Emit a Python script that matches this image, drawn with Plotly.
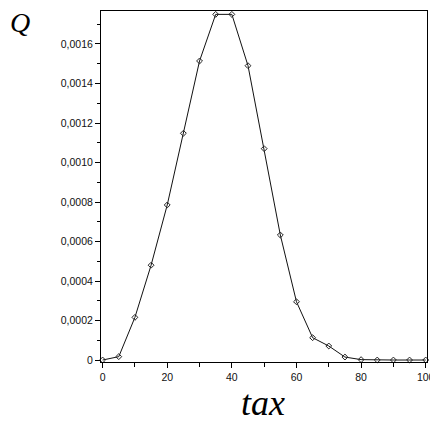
import plotly.graph_objects as go

tax = [0, 5, 10, 15, 20, 25, 30, 35, 40, 45, 50, 55, 60, 65, 70, 75, 80, 85, 90, 95, 100]
Q = [0.0, 0.000017, 0.000216, 0.00048, 0.000785, 0.001148, 0.001514, 0.00175, 0.00175,
     0.00149, 0.00107, 0.000633, 0.000295, 0.000113, 0.000071, 0.000015, 0.000002,
     0.0, 0.0, 0.0, 0.0]

y_tickvals = [0, 0.0002, 0.0004, 0.0006, 0.0008, 0.0010, 0.0012, 0.0014, 0.0016]
y_ticktext = ["0", "0,0002", "0,0004", "0,0006", "0,0008", "0,0010", "0,0012", "0,0014", "0,0016"]
x_tickvals = [0, 20, 40, 60, 80, 100]
x_ticktext = ["0", "20", "40", "60", "80", "100"]

W, H = 430, 423
L, T, R, B = 101, 11, 3, 61
pw, ph = W - L - R, H - T - B

def px2paper(x, y):
    return (x - L) / pw, 1 - (y - T) / ph

fig = go.Figure()
fig.add_trace(go.Scatter(
    x=tax, y=Q, mode="lines+markers",
    line=dict(color="#111111", width=1),
    marker=dict(symbol="diamond-open", size=4.5, color="#222222", line=dict(width=1)),
    showlegend=False, cliponaxis=False,
))

tickfont = dict(family="Liberation Sans, Arial, sans-serif", size=10.5, color="#111111")

qx, qy = px2paper(20, 23)
tx, ty = px2paper(263, 403)

fig.update_layout(
    width=W, height=H,
    margin=dict(l=L, r=R, t=T, b=B),
    paper_bgcolor="white", plot_bgcolor="white",
    xaxis=dict(
        range=[-0.5, 100.4], tickvals=x_tickvals, ticktext=x_ticktext,
        ticks="outside", ticklen=5, tickcolor="#000", tickwidth=1,
        showline=True, linecolor="#000", linewidth=1, mirror=True,
        showgrid=False, zeroline=False, tickfont=tickfont,
        ticklabeloverflow="allow", automargin=False,
        minor=dict(dtick=10, ticks="outside", ticklen=4, tickcolor="#000", showgrid=False),
    ),
    yaxis=dict(
        range=[-0.00001, 0.001767], tickvals=y_tickvals, ticktext=y_ticktext,
        ticks="outside", ticklen=5, tickcolor="#000", tickwidth=1,
        showline=True, linecolor="#000", linewidth=1, mirror=True,
        showgrid=False, zeroline=False, tickfont=tickfont, automargin=False,
        minor=dict(dtick=0.0001, ticks="outside", ticklen=3, tickcolor="#000", showgrid=False),
    ),
    annotations=[
        dict(text="<i>Q</i>", x=qx, y=qy, xref="paper", yref="paper", showarrow=False,
             font=dict(family="Liberation Serif, Times New Roman, serif", size=28, color="#000"),
             xanchor="center", yanchor="middle"),
        dict(text="<i>tax</i>", x=tx, y=ty, xref="paper", yref="paper", showarrow=False,
             font=dict(family="Liberation Serif, Times New Roman, serif", size=36, color="#000"),
             xanchor="center", yanchor="middle"),
    ],
)

# remove the default page margin so the 430x423 figure fills the window exactly
fig.write_html("out.html",
               config={"displayModeBar": False},
               post_script="document.body.style.margin='0';document.body.style.overflow='hidden';")
